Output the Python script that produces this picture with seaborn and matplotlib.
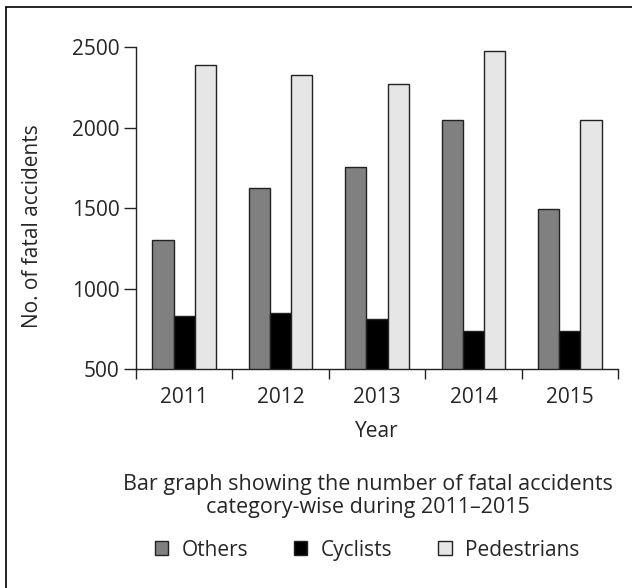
import pandas as pd
import matplotlib.pyplot as plt
import seaborn as sns
from matplotlib.lines import Line2D

# ── DATA ────────────────────────────────────────────────────
years = ['2011', '2012', '2013', '2014', '2015']
categories = ['Others', 'Cyclists', 'Pedestrians']
others = [1305, 1625, 1755, 2050, 1495]
cyclists = [830, 850, 810, 735, 735]
pedestrians = [2390, 2330, 2270, 2475, 2050]

df = pd.DataFrame({
    'year': years * 3,
    'category': [c for c in categories for _ in years],
    'count': others + cyclists + pedestrians,
})

colors = {'Others': '#808080', 'Cyclists': '#000000', 'Pedestrians': '#e6e6e6'}

# ── STYLE ───────────────────────────────────────────────────
sns.set_style('ticks')
plt.rcParams['font.family'] = ['Open Sans', 'DejaVu Sans']
fs = 15

fig = plt.figure(figsize=(6.32, 5.88), dpi=100)
ax = fig.add_axes([0.2152, 0.3724, 0.7627, 0.5471])

sns.barplot(data=df, x='year', y='count', hue='category', order=years,
            hue_order=categories, palette=colors, width=0.66,
            edgecolor='#222222', linewidth=1.0, saturation=1, ax=ax)

ax.set_ylim(500, 2500)
ax.set_yticks([500, 1000, 1500, 2000, 2500])
ax.set_xlim(-0.5, 4.5)

# category labels centred, tick marks on the boundaries
ax.set_xticks(range(len(years)))
ax.set_xticks([i - 0.5 for i in range(len(years) + 1)], minor=True)
ax.tick_params(axis='x', which='major', length=0, pad=13, labelsize=fs)
ax.tick_params(axis='x', which='minor', length=7, width=1.0, color='#222222')
ax.tick_params(axis='y', length=9, width=1.0, pad=3, labelsize=fs,
               color='#222222')

sns.despine(ax=ax)
for side in ['left', 'bottom']:
    ax.spines[side].set_linewidth(1.0)
    ax.spines[side].set_color('#222222')

ax.set_ylabel('No. of fatal accidents', fontsize=fs)
ax.yaxis.set_label_coords(-0.215, 0.444)
ax.yaxis.label.set_va('center')
ax.set_xlabel('Year', fontsize=fs)
ax.xaxis.set_label_coords(0.5, -0.193)
ax.xaxis.label.set_va('center')

handles, labels = ax.get_legend_handles_labels()
ax.get_legend().remove()
fig.legend(handles, labels, loc='center', bbox_to_anchor=(0.581, 0.0646),
           ncol=3, frameon=False, fontsize=fs, handlelength=0.64,
           handleheight=0.64, handletextpad=0.65, columnspacing=2.2)

fig.text(0.582, 0.1565,
         'Bar graph showing the number of fatal accidents\n'
         'category-wise during 2011\u20132015',
         ha='center', va='center', fontsize=15.5, linespacing=1.08)

# frame lines at top and left of the picture
fig.add_artist(Line2D([6 / 632, 1], [1 - 7 / 588, 1 - 7 / 588],
                      transform=fig.transFigure, color='black', lw=1.2))
fig.add_artist(Line2D([6 / 632, 6 / 632], [0, 1 - 7 / 588],
                      transform=fig.transFigure, color='black', lw=1.2))

plt.savefig('out.png', dpi=100)
